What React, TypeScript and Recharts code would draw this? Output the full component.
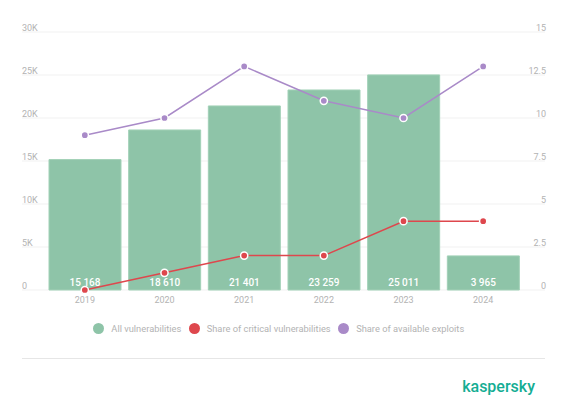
import React from "react";
import {
  ComposedChart,
  Bar,
  Line,
  XAxis,
  YAxis,
  CartesianGrid,
  Legend,
  LabelList,
} from "recharts";

// values
const years = ["2019", "2020", "2021", "2022", "2023", "2024"];
const allVulnerabilities = [15168, 18610, 21401, 23259, 25011, 3965];
const criticalShare = [0, 1, 2, 2, 4, 4];
const exploitShare = [9, 10, 13, 11, 10, 13];

const leftTicks = [0, 5000, 10000, 15000, 20000, 25000, 30000];
const leftTickLabels = ["0", "5K", "10K", "15K", "20K", "25K", "30K"];
const rightTicks = [0, 2.5, 5, 7.5, 10, 12.5, 15];

const GREEN = "#8ec4a8";
const RED = "#de474d";
const PURPLE = "#a98ac8";
const GREY = "#b3b3b3";
const FONT = "Roboto, 'Noto Sans', sans-serif";

const legendItems = [
  { label: "All vulnerabilities", color: GREEN },
  { label: "Share of critical vulnerabilities", color: RED },
  { label: "Share of available exploits", color: PURPLE },
];

const data = years.map((year, i) => ({
  year,
  all: allVulnerabilities[i],
  critical: criticalShare[i],
  exploits: exploitShare[i],
}));

const formatThousands = (v: number) =>
  String(v).replace(/\B(?=(\d{3})+(?!\d))/g, " ");

// tick labels sit just above their grid line, at the ends of the grid
const renderLeftTick = (props: any) => {
  const { x, y, payload } = props;
  const idx = leftTicks.indexOf(payload.value);
  return (
    <text
      key={`l-${payload.value}`}
      x={x}
      y={y - 1.5}
      textAnchor="start"
      fontSize={9}
      fontFamily={FONT}
      fill={GREY}
    >
      {leftTickLabels[idx]}
    </text>
  );
};

const renderRightTick = (props: any) => {
  const { x, y, payload } = props;
  return (
    <text
      key={`r-${payload.value}`}
      x={x + 1}
      y={y - 1.5}
      textAnchor="end"
      fontSize={9}
      fontFamily={FONT}
      fill={GREY}
    >
      {payload.value}
    </text>
  );
};

const BarValue = (props: any) => {
  const { x, y, width, height, value } = props;
  return (
    <text
      x={x + width / 2}
      y={y + height - 4.5}
      textAnchor="middle"
      fontSize={10}
      fontWeight={500}
      fontFamily={FONT}
      fill="#ffffff"
    >
      {formatThousands(value)}
    </text>
  );
};

const LegendContent = () => (
  <div
    style={{
      height: 36,
      display: "flex",
      alignItems: "center",
      justifyContent: "center",
      fontFamily: FONT,
      fontSize: 9.3,
      color: GREY,
      paddingRight: 2,
    }}
  >
    {legendItems.map((item) => (
      <div
        key={item.label}
        style={{ display: "flex", alignItems: "center", marginRight: 7.5 }}
      >
        <span
          style={{
            width: 11,
            height: 11,
            borderRadius: "50%",
            background: item.color,
            marginRight: 7,
            display: "inline-block",
          }}
        />
        <span>{item.label}</span>
      </div>
    ))}
  </div>
);

const dotStyle = (color: string) => ({
  r: 3.6,
  fill: color,
  stroke: "#ffffff",
  strokeWidth: 1.5,
});

export default function App() {
  return (
    <div
      style={{
        position: "absolute",
        left: 0,
        top: 0,
        width: 567,
        height: 416,
        background: "#ffffff",
        overflow: "hidden",
      }}
    >
      <ComposedChart
        width={567}
        height={346}
        data={data}
        margin={{ top: 32, right: 21, left: 21, bottom: 0 }}
      >
        <CartesianGrid vertical={false} stroke="#f1f1f1" yAxisId="left" />
        <XAxis
          dataKey="year"
          axisLine={false}
          tickLine={false}
          tickSize={0}
          tickMargin={7}
          height={20}
          padding={{ left: 23, right: 22 }}
          tick={{ fontSize: 9, fontFamily: FONT, fill: GREY }}
        />
        <YAxis
          yAxisId="left"
          width={1}
          domain={[0, 30000]}
          ticks={leftTicks}
          interval={0}
          axisLine={false}
          tickLine={false}
          tickSize={0}
          tickMargin={0}
          tick={renderLeftTick}
        />
        <YAxis
          yAxisId="right"
          orientation="right"
          width={1}
          domain={[0, 15]}
          ticks={rightTicks}
          interval={0}
          axisLine={false}
          tickLine={false}
          tickSize={0}
          tickMargin={0}
          tick={renderRightTick}
        />
        <Legend verticalAlign="bottom" content={<LegendContent />} />
        <Bar
          yAxisId="left"
          dataKey="all"
          name="All vulnerabilities"
          fill={GREEN}
          stroke="#a2d1b7"
          strokeWidth={1}
          barSize={72}
          isAnimationActive={false}
        >
          <LabelList dataKey="all" content={<BarValue />} />
        </Bar>
        <Line
          yAxisId="right"
          dataKey="critical"
          name="Share of critical vulnerabilities"
          stroke={RED}
          strokeWidth={1.5}
          dot={dotStyle(RED)}
          activeDot={false}
          isAnimationActive={false}
        />
        <Line
          yAxisId="right"
          dataKey="exploits"
          name="Share of available exploits"
          stroke={PURPLE}
          strokeWidth={1.5}
          dot={dotStyle(PURPLE)}
          activeDot={false}
          isAnimationActive={false}
        />
      </ComposedChart>
      <div
        style={{
          position: "absolute",
          left: 22,
          top: 358,
          width: 523,
          height: 1,
          background: "#e6e6e6",
        }}
      />
      <div
        style={{
          position: "absolute",
          right: 32,
          top: 377,
          fontFamily: FONT,
          fontSize: 16,
          fontWeight: 500,
          color: "#14ad93",
          lineHeight: "20px",
        }}
      >
        kaspersky
      </div>
    </div>
  );
}
